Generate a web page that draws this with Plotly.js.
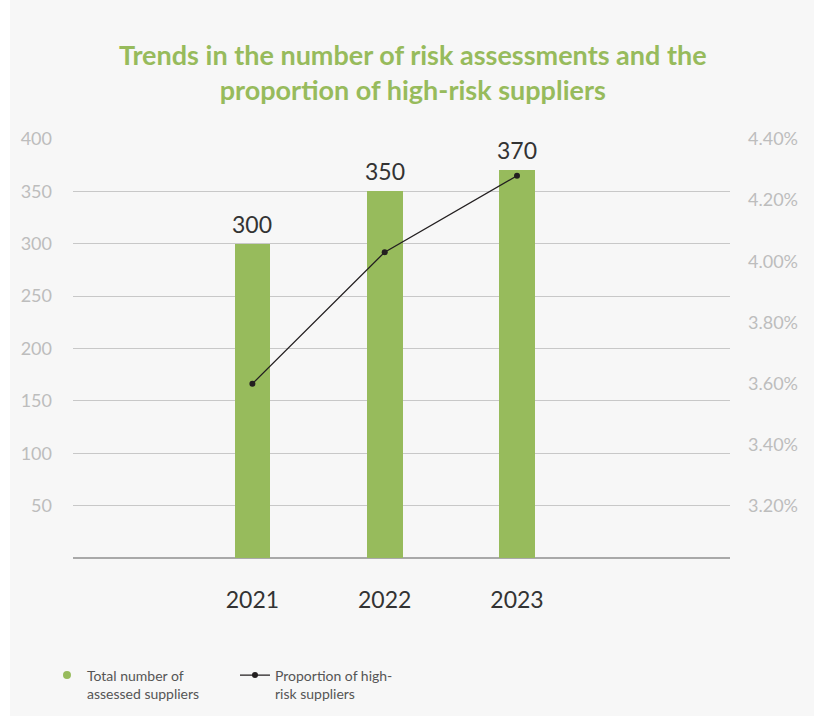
<!DOCTYPE html>
<html>
<head>
<meta charset="utf-8">
<script src="https://cdn.plot.ly/plotly-3.0.1.min.js"></script>
<style>
html,body{margin:0;padding:0;background:#ffffff;}
#chart{position:absolute;left:10px;top:0;width:804px;height:716px;}
</style>
</head>
<body>
<div id="chart"></div>
<script>
const years = ['2021', '2022', '2023'];
const assessedSuppliers = [300, 350, 370];
const highRiskProportion = [3.60, 4.03, 4.28];
const leftTicks = [50, 100, 150, 200, 250, 300, 350, 400];
const rightTicks = [3.2, 3.4, 3.6, 3.8, 4.0, 4.2, 4.4];
const titleText = 'Trends in the number of risk assessments and the<br>proportion of high-risk suppliers';
const barName = 'Total number of<br>assessed suppliers';
const lineName = 'Proportion of high-<br>risk suppliers';

const green = '#97bb5c';
const dark = '#231f20';
const FONT = 'Lato, "Noto Sans", sans-serif';

const traces = [
  {
    type: 'bar', x: years, y: assessedSuppliers, name: barName, showlegend: false,
    marker: {color: green}, width: 0.27, yaxis: 'y', hoverinfo: 'skip'
  },
  {
    // legend proxy for the bars (round dot as in the reference)
    type: 'scatter', mode: 'markers', x: [null], y: [null], name: barName,
    marker: {color: green, size: 8}, yaxis: 'y', hoverinfo: 'skip'
  },
  {
    type: 'scatter', mode: 'lines+markers', x: years, y: highRiskProportion, name: lineName,
    yaxis: 'y2', line: {color: dark, width: 1.3}, marker: {color: dark, size: 6}, hoverinfo: 'skip'
  }
];

const annotations = years.map((yr, i) => ({
  x: i, y: assessedSuppliers[i], xref: 'x', yref: 'y', text: String(assessedSuppliers[i]),
  showarrow: false, yanchor: 'bottom', yshift: 4,
  font: {family: FONT, size: 23, color: '#333333'}
}));

const layout = {
  width: 804, height: 716,
  paper_bgcolor: '#f7f7f7', plot_bgcolor: '#f7f7f7',
  margin: {l: 63, r: 84, t: 139, b: 158, autoexpand: false},
  title: {
    text: titleText, x: 0.501, xref: 'container', xanchor: 'center', y: 0.909, yanchor: 'top',
    font: {family: FONT, size: 27, color: green, weight: 'bold'}
  },
  showlegend: true,
  legend: {
    orientation: 'h', x: 0.046, xref: 'container', y: 0.079, yref: 'container',
    xanchor: 'left', yanchor: 'top', valign: 'top',
    entrywidth: 143, entrywidthmode: 'pixels', itemwidth: 30,
    font: {family: FONT, size: 14, color: '#555555'},
    bgcolor: 'rgba(0,0,0,0)'
  },
  bargap: 0,
  xaxis: {
    type: 'category', range: [-1.356, 3.61], showgrid: false, zeroline: false,
    ticks: '', ticklabelstandoff: 26, showline: false,
    tickfont: {family: FONT, size: 23, color: '#333333'}
  },
  yaxis: {
    range: [0, 400], tickvals: leftTicks, ticktext: leftTicks.map(String),
    showgrid: true, gridcolor: '#c8c8c8', gridwidth: 1,
    zeroline: true, zerolinecolor: '#a9a9a9', zerolinewidth: 2.5,
    ticks: '', ticklabelstandoff: 20, showline: false,
    tickfont: {family: FONT, size: 18, color: '#bdbdbd'}
  },
  yaxis2: {
    overlaying: 'y', side: 'right', range: [3.03, 4.40], tickvals: rightTicks,
    ticktext: rightTicks.map(v => v.toFixed(2) + '%'),
    showgrid: false, zeroline: false, ticks: '', ticklabelstandoff: 17, showline: false,
    tickfont: {family: FONT, size: 18, color: '#bdbdbd'}
  },
  annotations: annotations
};

Plotly.newPlot('chart', traces, layout, {staticPlot: true, displayModeBar: false});
</script>
</body>
</html>
